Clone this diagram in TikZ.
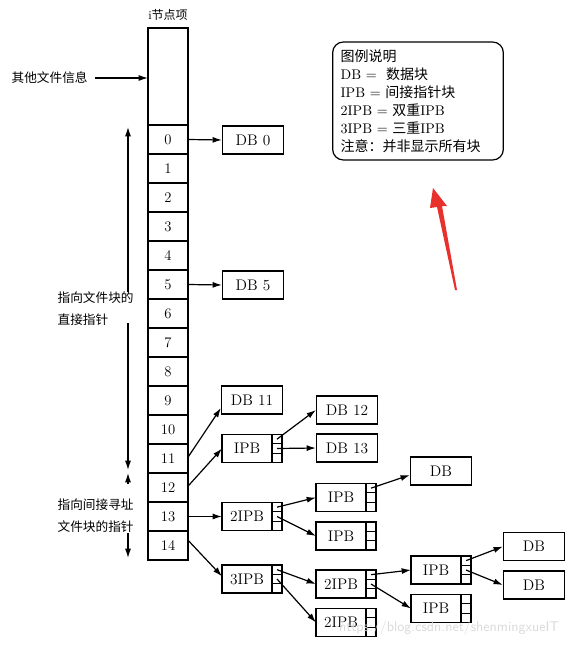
\documentclass[tikz,border=0pt]{standalone}
\usepackage{fontspec}
\newfontfamily\cjk{Noto Sans CJK SC}
\usepackage{xcolor}
\definecolor{annored}{HTML}{E8302C}
\usepackage{tikz}
\usetikzlibrary{arrows.meta,positioning,calc}
\newcommand{\ptrcells}[1]{%
 \node[cell,anchor=north west] (#1a) at (#1.north east) {};
 \node[cell,below=0pt of #1a] (#1b) {};
 \node[cell,below=0pt of #1b] (#1c) {};}

\begin{document}
\begin{tikzpicture}[>=Latex,x=0.75pt,y=-0.75pt,line width=0.9pt]
\tikzset{
 slot/.style={draw,minimum width=30pt,minimum height=21.75pt,inner sep=0pt,outer sep=0pt,font=\fontsize{11}{13}\selectfont},
 datablk/.style={draw,minimum width=45.75pt,minimum height=21pt,inner sep=0pt,font=\fontsize{11.5}{13}\selectfont},
 ptrblk/.style={draw,minimum width=37.5pt,minimum height=21pt,inner sep=0pt,outer sep=0pt,font=\fontsize{11.5}{13}\selectfont},
 cell/.style={draw,minimum width=7.5pt,minimum height=7pt,inner sep=0pt,outer sep=0pt},
 cjklabel/.style={font=\cjk\fontsize{9.5}{16.5}\selectfont,align=left,inner sep=0pt},
 arrow/.style={-{Latex[length=7pt,width=4.5pt]}}
}
\useasboundingbox (0,0) rectangle (586,646);
% i-node column
\node[font=\fontsize{9}{11}\selectfont] (title) at (168,15) {i{\cjk 节点项}};
\node[slot,minimum height=72.75pt] (info) at (168,76.5) {};
\node[slot,below=0pt of info] (r0) {0};
\node[slot,below=0pt of r0] (r1) {1};
\node[slot,below=0pt of r1] (r2) {2};
\node[slot,below=0pt of r2] (r3) {3};
\node[slot,below=0pt of r3] (r4) {4};
\node[slot,below=0pt of r4] (r5) {5};
\node[slot,below=0pt of r5] (r6) {6};
\node[slot,below=0pt of r6] (r7) {7};
\node[slot,below=0pt of r7] (r8) {8};
\node[slot,below=0pt of r8] (r9) {9};
\node[slot,below=0pt of r9] (r10) {10};
\node[slot,below=0pt of r10] (r11) {11};
\node[slot,below=0pt of r11] (r12) {12};
\node[slot,below=0pt of r12] (r13) {13};
\node[slot,below=0pt of r13] (r14) {14};
% left labels
\node[cjklabel,anchor=west] (other) at (11,78) {其他文件信息};
\draw[arrow] ([xshift=5pt]other.east) -- (info.west |- other.east);
\coordinate (dtop) at (128,127);
\coordinate (dgapa) at (128,292);
\coordinate (dgapb) at (128,323);
\coordinate (dbot) at (128,470);
\node[cjklabel,anchor=north west] (direct) at (57,291) {指向文件块的\\直接指针};
\draw[arrow] (dgapa) -- (dtop);
\draw[arrow] (dgapb) -- (dbot);
\coordinate (itop) at (128,473);
\coordinate (igapa) at (128,484);
\coordinate (igapb) at (128,533);
\coordinate (ibot) at (128,558);
\node[cjklabel,anchor=north west] (indirect) at (57,498) {指向间接寻址\\文件块的指针};
\draw[arrow] (igapa) -- (itop);
\draw[arrow] (igapb) -- (ibot);
% blocks
\node[datablk] (db0) at (253,140) {DB 0};
\node[datablk] (db5) at (253,285) {DB 5};
\node[datablk] (db11) at (252,400) {DB 11};
\node[ptrblk] (ipb) at (247,448.5) {IPB}; \ptrcells{ipb}
\node[datablk] (db12) at (347,410) {DB 12};
\node[datablk] (db13) at (347,448) {DB 13};
\node[ptrblk] (dipb) at (247,516.5) {2IPB}; \ptrcells{dipb}
\node[ptrblk] (ipbA) at (341,497.5) {IPB}; \ptrcells{ipbA}
\node[ptrblk] (ipbB) at (341,536) {IPB}; \ptrcells{ipbB}
\node[datablk] (dbA) at (441,471) {DB};
\node[ptrblk] (tipb) at (247,579) {3IPB}; \ptrcells{tipb}
\node[ptrblk] (dipbA) at (341,584) {2IPB}; \ptrcells{dipbA}
\node[ptrblk] (dipbB) at (341,622.5) {2IPB}; \ptrcells{dipbB}
\node[ptrblk] (ipbC) at (436,570) {IPB}; \ptrcells{ipbC}
\node[ptrblk] (ipbD) at (436,608.5) {IPB}; \ptrcells{ipbD}
\node[datablk] (dbC) at (534,546.5) {DB};
\node[datablk] (dbD) at (534,585) {DB};
% pointers
\draw[arrow] (r0.east) -- (db0.west);
\draw[arrow] (r5.east) -- (db5.west);
\draw[arrow] ([yshift=1pt]r11.east) -- ([yshift=-6pt]db11.west);
\draw[arrow] ([yshift=1pt]r12.east) -- (ipb.west);
\draw[arrow] (r13.east) -- (dipb.west);
\draw[arrow] ([yshift=4pt]r14.east) -- ([yshift=2pt]tipb.west);
\draw[arrow] (ipba.center) -- (db12.west);
\draw[arrow] (ipbb.center) -- (db13.west);
\draw[arrow] (dipba.center) -- (ipbA.west);
\draw[arrow] (dipbb.center) -- (ipbB.west);
\draw[arrow] (ipbAa.center) -- ([yshift=-3pt]dbA.west);
\draw[arrow] (tipba.center) -- (dipbA.west);
\draw[arrow] (tipbb.center) -- (dipbB.west);
\draw[arrow] (dipbAa.center) -- (ipbC.west);
\draw[arrow] (dipbAb.center) -- (ipbD.west);
\draw[arrow] (ipbCa.center) -- (dbC.west);
\draw[arrow] (ipbCb.center) -- (dbD.west);
% legend
\node[draw,rounded corners=8pt,text width=116pt,inner xsep=6pt,minimum height=88.5pt,align=left,
 font=\fontsize{10.5}{13.5}\selectfont] (legend) at (418,101)
 {{\cjk 图例说明}\\
  DB = \ {\cjk 数据块}\\
  IPB = {\cjk 间接指针块}\\
  2IPB = {\cjk 双重}IPB\\
  3IPB = {\cjk 三重}IPB\\
  {\cjk 注意：并非显示所有块}};
\fill[annored] (433,188) -- (447,206) -- (442,206) -- (457,290) -- (455,290) -- (437,207) -- (430,208) -- cycle;
\node[text=gray!30,font=\sffamily\fontsize{10.5}{12}\selectfont] (mark) at (449,628) {https://blog.csdn.net/shenmingxueIT};
\end{tikzpicture}
\end{document}
